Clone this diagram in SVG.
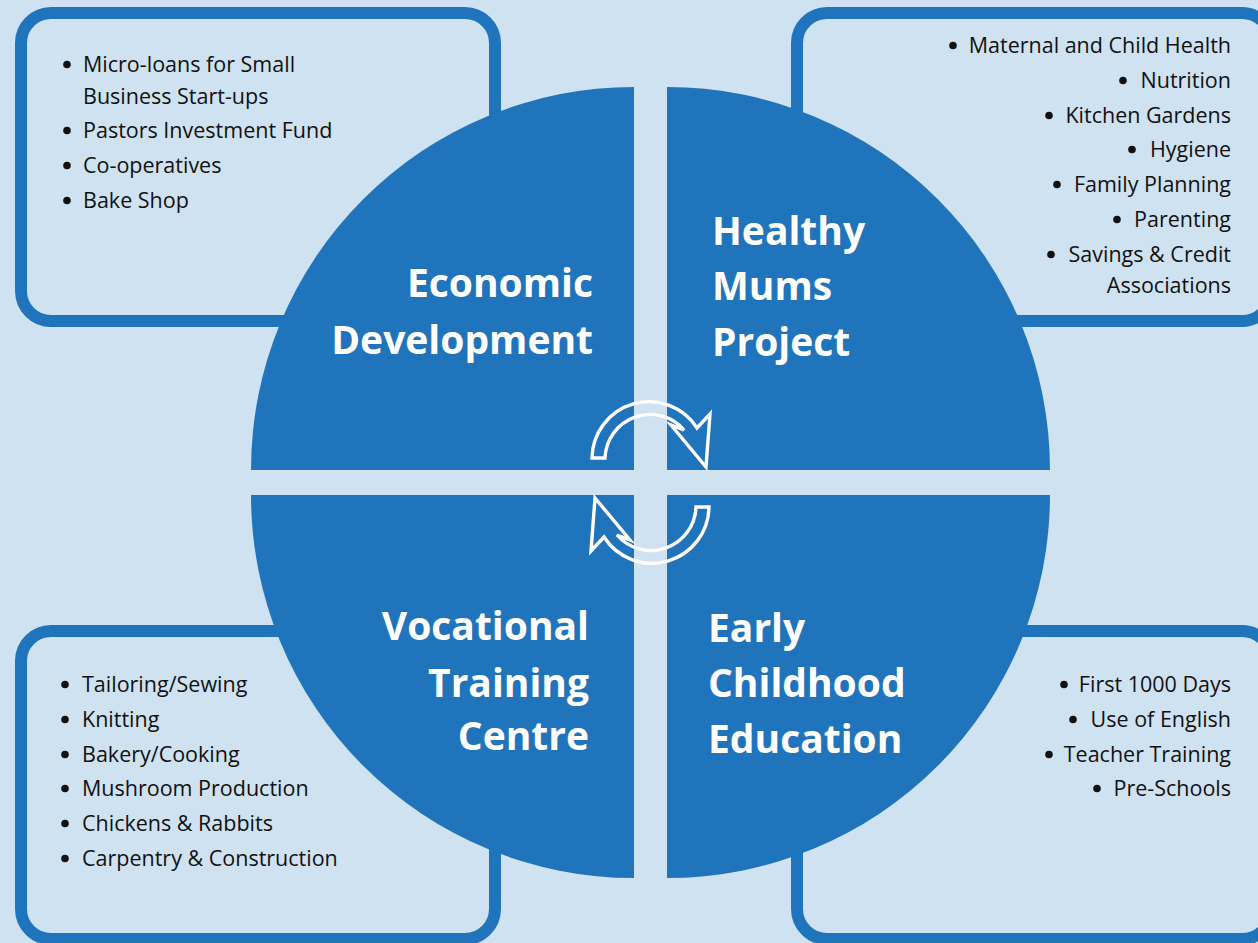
<svg xmlns="http://www.w3.org/2000/svg" width="1258" height="943" viewBox="0 0 1258 943">
<style>
.bg{fill:#cfe2f1}
.box{fill:#cfe2f1;stroke:#1f74bb;stroke-width:12}
.q{fill:#1f74bb}
.t{font-family:"Open Sans","Liberation Sans",sans-serif;font-size:21.5px;fill:#111}
.b{fill:#111}
.h{font-family:"Open Sans","Liberation Sans",sans-serif;font-size:39px;font-weight:bold;fill:#fff}
.arr{fill:none;stroke:#fff;stroke-width:3.4;stroke-linejoin:miter}
</style>
<rect class="bg" x="0" y="0" width="1258" height="943"/>
<g id="box-economic"><rect class="box" x="21" y="13" width="474" height="308" rx="30"/></g>
<g id="box-healthy"><rect class="box" x="797" y="13" width="475" height="308" rx="30"/></g>
<g id="box-vocational"><rect class="box" x="21" y="631" width="474" height="308" rx="30"/></g>
<g id="box-early"><rect class="box" x="797" y="631" width="475" height="308" rx="30"/></g>

<g id="quadrant-economic">
<path class="q" d="M634,470 L251,470 A383,383 0 0 1 634,87 Z"/>
<text class="h" text-anchor="end"><tspan x="593" y="297">Economic</tspan><tspan x="593" y="354">Development</tspan></text>
</g>
<g id="quadrant-healthy">
<path class="q" d="M667,470 L667,87 A383,383 0 0 1 1050,470 Z"/>
<text class="h"><tspan x="712" y="245">Healthy</tspan><tspan x="712" y="300">Mums</tspan><tspan x="712" y="356">Project</tspan></text>
</g>
<g id="quadrant-vocational">
<path class="q" d="M634,495 L634,878 A383,383 0 0 1 251,495 Z"/>
<text class="h" text-anchor="end"><tspan x="589" y="640">Vocational</tspan><tspan x="589" y="697">Training</tspan><tspan x="589" y="750">Centre</tspan></text>
</g>
<g id="quadrant-early">
<path class="q" d="M667,495 L1050,495 A383,383 0 0 1 667,878 Z"/>
<text class="h"><tspan x="708" y="642">Early</tspan><tspan x="708" y="697">Childhood</tspan><tspan x="708" y="753">Education</tspan></text>
</g>

<g id="list-economic">
<circle class="b" cx="67" cy="64.5" r="3.8"/><circle class="b" cx="67" cy="130.5" r="3.8"/><circle class="b" cx="67" cy="165.5" r="3.8"/><circle class="b" cx="67" cy="200.5" r="3.8"/>
<g class="t">
<text x="83" y="72">Micro-loans for Small</text>
<text x="83" y="104">Business Start-ups</text>
<text x="83" y="138">Pastors Investment Fund</text>
<text x="83" y="173">Co-operatives</text>
<text x="83" y="208">Bake Shop</text>
</g>
</g>

<g id="list-healthy">
<circle class="b" cx="953" cy="45.5" r="3.8"/>
<circle class="b" cx="1123" cy="80.5" r="3.8"/>
<circle class="b" cx="1049" cy="115.5" r="3.8"/>
<circle class="b" cx="1132" cy="149.5" r="3.8"/>
<circle class="b" cx="1057" cy="184.5" r="3.8"/>
<circle class="b" cx="1117" cy="219.5" r="3.8"/>
<circle class="b" cx="1051" cy="254.5" r="3.8"/>
<g class="t" text-anchor="end">
<text x="1231" y="53">Maternal and Child Health</text>
<text x="1231" y="88">Nutrition</text>
<text x="1231" y="123">Kitchen Gardens</text>
<text x="1231" y="157">Hygiene</text>
<text x="1231" y="192">Family Planning</text>
<text x="1231" y="227">Parenting</text>
<text x="1231" y="262">Savings &amp; Credit</text>
<text x="1231" y="293">Associations</text>
</g>
</g>

<g id="list-vocational">
<circle class="b" cx="65" cy="684.5" r="3.8"/><circle class="b" cx="65" cy="719.5" r="3.8"/><circle class="b" cx="65" cy="754.5" r="3.8"/><circle class="b" cx="65" cy="788.5" r="3.8"/><circle class="b" cx="65" cy="823.5" r="3.8"/><circle class="b" cx="65" cy="858.5" r="3.8"/>
<g class="t">
<text x="82" y="692">Tailoring/Sewing</text>
<text x="82" y="727">Knitting</text>
<text x="82" y="762">Bakery/Cooking</text>
<text x="82" y="796">Mushroom Production</text>
<text x="82" y="831">Chickens &amp; Rabbits</text>
<text x="82" y="866">Carpentry &amp; Construction</text>
</g>
</g>

<g id="list-early">
<circle class="b" cx="1064" cy="684.5" r="3.8"/>
<circle class="b" cx="1073" cy="719.5" r="3.8"/>
<circle class="b" cx="1049" cy="754.5" r="3.8"/>
<circle class="b" cx="1097" cy="788.5" r="3.8"/>
<g class="t" text-anchor="end">
<text x="1231" y="692">First 1000 Days</text>
<text x="1231" y="727">Use of English</text>
<text x="1231" y="762">Teacher Training</text>
<text x="1231" y="796">Pre-Schools</text>
</g>
</g>

<g id="connectors">
<path id="cycle-arrow" class="arr" d="M592,458 A57,57 0 0 1 697,428 L710,414 L706,467 L671,425 L684,430 A45,45 0 0 0 605,458 Z"/>
<path class="arr" d="M592,458 A57,57 0 0 1 697,428 L710,414 L706,467 L671,425 L684,430 A45,45 0 0 0 605,458 Z" transform="rotate(180 650.5 482.5)"/>
</g>
</svg>
